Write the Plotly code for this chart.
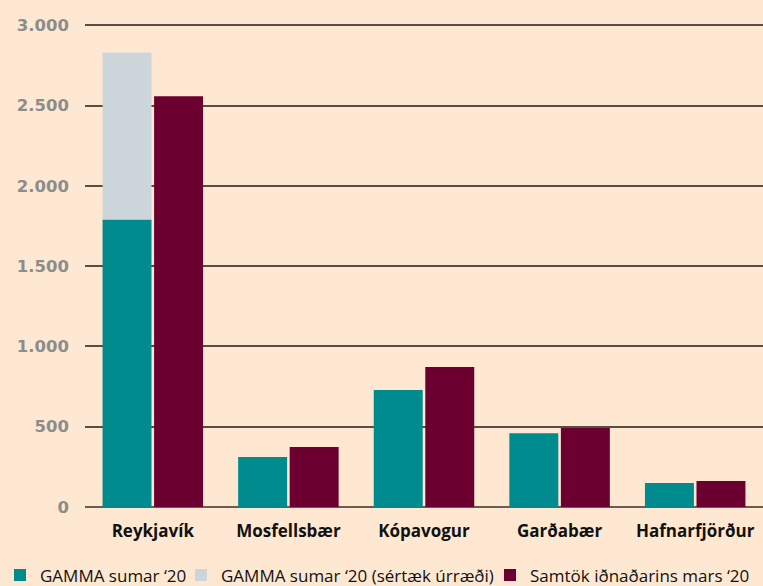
import plotly.graph_objects as go

categories = ["Reykjavík", "Mosfellsbær", "Kópavogur", "Garðabær", "Hafnarfjörður"]
gamma = [1790, 311, 728, 460, 149]
gamma_extra = [1040, 0, 0, 0, 0]
si_mars = [2557, 373, 871, 492, 162]
series_names = ["GAMMA sumar ‘20", "GAMMA sumar ‘20 (sértæk úrræði)", "Samtök iðnaðarins mars ‘20"]
y_ticks = [0, 500, 1000, 1500, 2000, 2500, 3000]

teal = "#008c8f"
grey = "#ccd5d9"
maroon = "#6b0030"
bg = "#fee8d2"

fig = go.Figure()
fig.add_trace(go.Bar(x=categories, y=gamma, name=series_names[0], marker_color=teal,
                     offsetgroup="g", marker_line_width=0, legend="legend"))
fig.add_trace(go.Bar(x=categories, y=gamma_extra, base=gamma, name=series_names[1], marker_color=grey,
                     offsetgroup="g", marker_line_width=0, legend="legend2"))
fig.add_trace(go.Bar(x=categories, y=si_mars, name=series_names[2], marker_color=maroon,
                     offsetgroup="s", marker_line_width=0, legend="legend3"))

leg_font = dict(family="Open Sans", size=17, color="#111")
def leg(xpx):
    return dict(orientation="h", xref="container", yref="container", x=xpx / 763, xanchor="left",
                y=0.018, yanchor="middle", font=leg_font, itemwidth=30,
                bgcolor="rgba(0,0,0,0)")

fig.update_layout(
    width=763, height=586,
    paper_bgcolor=bg, plot_bgcolor=bg,
    margin=dict(l=85, r=0, t=22, b=79, autoexpand=False),
    barmode="group", bargap=0.24, bargroupgap=0.05,
    separators=",.",
    showlegend=True,
    legend=leg(0), legend2=leg(181), legend3=leg(490),
    font=dict(family="Open Sans"),
)
fig.update_yaxes(range=[0, 3020], tickvals=y_ticks, tickformat=",d",
                 showgrid=True, gridcolor="#5a4c44", gridwidth=1.5,
                 zeroline=True, zerolinecolor="#6b5d52", zerolinewidth=1.5,
                 tickfont=dict(family="DejaVu Sans", size=16.5, color="#8c8c8c", weight="bold"),
                 ticklabelstandoff=15, showline=False)
fig.update_xaxes(tickfont=dict(family="Open Sans", size=17, color="#111", weight="bold"),
                 ticklabelstandoff=12, showline=False, showgrid=False)

fig.write_html("out.html", config={"displayModeBar": False},
               post_script="document.body.style.margin='0';document.body.style.background='%s';" % bg)
